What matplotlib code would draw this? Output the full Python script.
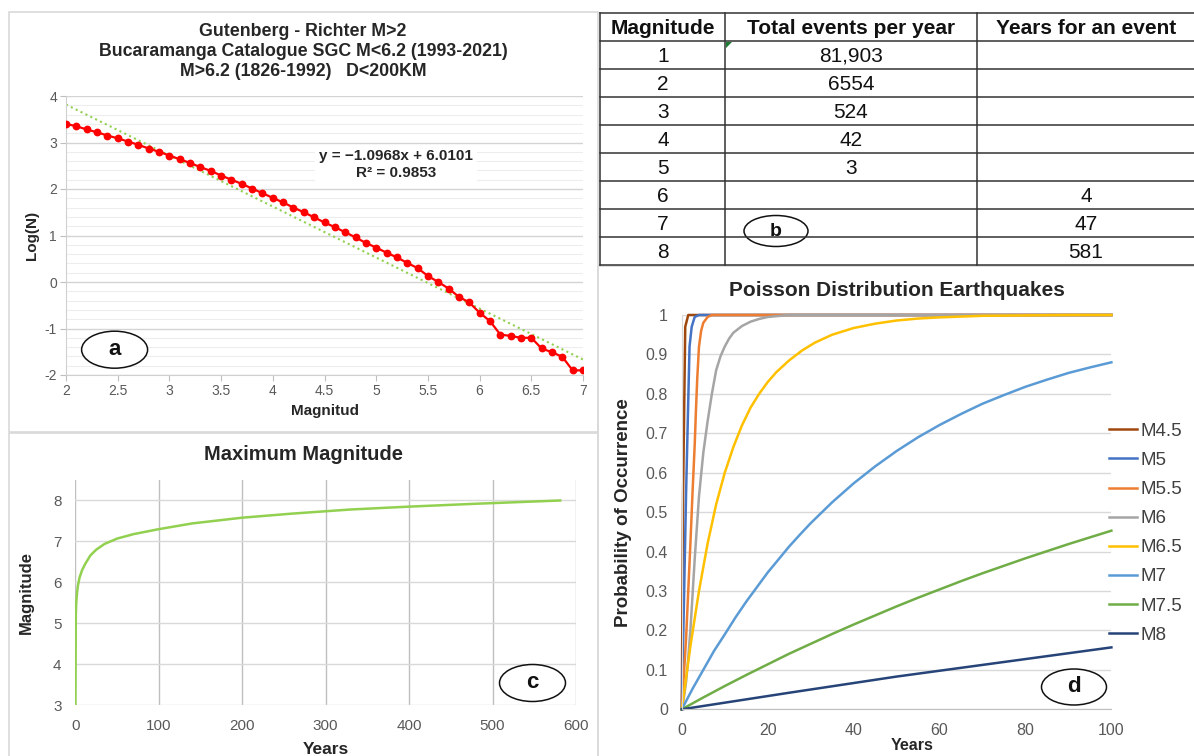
import matplotlib
matplotlib.use("Agg")
import matplotlib.pyplot as plt
from matplotlib.patches import Ellipse, Rectangle, Polygon
from matplotlib.ticker import MultipleLocator

plt.rcParams['font.family'] = ['Liberation Sans', 'DejaVu Sans']
plt.rcParams['axes.unicode_minus'] = False

# ---------------- data ----------------
# (a) Gutenberg-Richter
mag_a = [2.0, 2.1, 2.2, 2.3, 2.4, 2.5, 2.6, 2.7, 2.8, 2.9,
         3.0, 3.1, 3.2, 3.3, 3.4, 3.5, 3.6, 3.7, 3.8, 3.9,
         4.0, 4.1, 4.2, 4.3, 4.4, 4.5, 4.6, 4.7, 4.8, 4.9,
         5.0, 5.1, 5.2, 5.3, 5.4, 5.5, 5.6, 5.7, 5.8, 5.9,
         6.0, 6.1, 6.2, 6.3, 6.4, 6.5, 6.6, 6.7, 6.8, 6.9, 7.0]
log_n = [3.40, 3.35, 3.28, 3.22, 3.15, 3.09, 3.02, 2.95, 2.87, 2.80,
         2.72, 2.64, 2.56, 2.47, 2.39, 2.29, 2.20, 2.11, 2.01, 1.91,
         1.81, 1.71, 1.60, 1.50, 1.39, 1.28, 1.18, 1.07, 0.96, 0.84,
         0.74, 0.63, 0.53, 0.41, 0.30, 0.13, 0.00, -0.14, -0.32, -0.44,
         -0.66, -0.84, -1.13, -1.16, -1.20, -1.20, -1.43, -1.51, -1.61, -1.90, -1.90]
trend_x = [2.0, 7.0]
trend_y = [3.816, -1.667]
eq_text = "y = \u22121.0968x + 6.0101\nR\u00b2 = 0.9853"
a_xticks = [2, 2.5, 3, 3.5, 4, 4.5, 5, 5.5, 6, 6.5, 7]
a_xticklabels = ['2', '2.5', '3', '3.5', '4', '4.5', '5', '5.5', '6', '6.5', '7']
a_yticks = [-2, -1, 0, 1, 2, 3, 4]

# (b) table
tbl_headers = ['Magnitude', 'Total events per year', 'Years for an event']
tbl_mag = ['1', '2', '3', '4', '5', '6', '7', '8']
tbl_events = ['81,903', '6554', '524', '42', '3', '', '', '']
tbl_years = ['', '', '', '', '', '4', '47', '581']

# (c) maximum magnitude vs years
years_c = [0.0, 0.5, 1, 2, 3, 5, 8, 12, 18, 25, 35, 50, 70, 100,
           140, 200, 260, 330, 400, 480, 581]
mmax_c = [3.0, 5.2, 5.5, 5.75, 5.92, 6.12, 6.3, 6.46, 6.66, 6.8, 6.94, 7.07, 7.18, 7.30,
          7.44, 7.58, 7.68, 7.78, 7.85, 7.92, 8.0]
c_xticks = [0, 100, 200, 300, 400, 500, 600]
c_yticks = [3, 4, 5, 6, 7, 8]

# (d) Poisson probability of occurrence
d_labels = ['M4.5', 'M5', 'M5.5', 'M6', 'M6.5', 'M7', 'M7.5', 'M8']
d_colors = ['#9E480E', '#4472C4', '#ED7D31', '#A5A5A5', '#FFC000', '#5B9BD5', '#70AD47', '#264478']
t_m45 = [0, 0.3, 0.8, 1.5, 100]
p_m45 = [0, 0.55, 0.97, 1.0, 1.0]
t_m5 = [0, 1.0, 1.8, 2.3, 3.0, 4.0, 100]
p_m5 = [0, 0.55, 0.92, 0.97, 0.995, 1.0, 1.0]
t_m55 = [0, 1, 1.5, 2, 2.5, 3, 3.3, 3.6, 4, 4.5, 5, 6, 7, 100]
p_m55 = [0, 0.18, 0.3, 0.42, 0.55, 0.67, 0.76, 0.84, 0.92, 0.96, 0.98, 0.995, 1.0, 1.0]
t_m6 = [0, 0.5, 1, 1.5, 2, 2.5, 3, 3.5, 4, 5, 6, 7, 8, 9, 10, 11, 12, 14, 16, 18, 20, 22, 25, 100]
p_m6 = [0, 0.03, 0.07, 0.13, 0.2, 0.29, 0.38, 0.46, 0.54, 0.65, 0.73, 0.8, 0.86, 0.895,
        0.92, 0.94, 0.955, 0.972, 0.983, 0.99, 0.995, 0.997, 1.0, 1.0]
t_m65 = [0, 1, 2, 3, 4, 5, 6, 7, 8, 9, 10, 12, 14, 16, 18, 20, 22, 25, 28, 31, 35, 40,
         45, 50, 55, 60, 70, 80, 90, 100]
p_m65 = [0, 0.08, 0.16, 0.23, 0.30, 0.36, 0.42, 0.47, 0.52, 0.56, 0.60, 0.665, 0.72, 0.765,
         0.80, 0.83, 0.855, 0.885, 0.91, 0.93, 0.95, 0.967, 0.978, 0.986, 0.991, 0.994,
         0.998, 0.999, 1.0, 1.0]
t_m7 = [0, 2.5, 5, 7.5, 10, 12.5, 15, 17.5, 20, 22.5, 25, 27.5, 30, 35, 40, 45, 50, 55,
        60, 65, 70, 75, 80, 85, 90, 95, 100]
p_m7 = [0, 0.052, 0.10, 0.148, 0.19, 0.233, 0.273, 0.31, 0.347, 0.38, 0.413, 0.443, 0.472,
        0.525, 0.573, 0.616, 0.655, 0.69, 0.721, 0.749, 0.775, 0.797, 0.818, 0.836, 0.853,
        0.867, 0.88]
t_m75 = [0, 5, 10, 15, 20, 25, 30, 35, 40, 45, 50, 55, 60, 65, 70, 75, 80, 85, 90, 95, 100]
p_m75 = [0, 0.03, 0.059, 0.087, 0.114, 0.141, 0.166, 0.191, 0.215, 0.238, 0.261, 0.283,
         0.304, 0.325, 0.345, 0.364, 0.383, 0.401, 0.419, 0.436, 0.453]
t_m8 = [0, 25, 50, 75, 100]
p_m8 = [0, 0.042, 0.083, 0.12, 0.157]
d_xticks = [0, 20, 40, 60, 80, 100]
d_yticks = [0, 0.1, 0.2, 0.3, 0.4, 0.5, 0.6, 0.7, 0.8, 0.9, 1]
d_yticklabels = ['0', '0.1', '0.2', '0.3', '0.4', '0.5', '0.6', '0.7', '0.8', '0.9', '1']

# ---------------- figure ----------------
W, H = 1194, 756
fig = plt.figure(figsize=(W / 100, H / 100), dpi=100)
fig.patch.set_facecolor('white')
TICKC = '#595959'


def px_axes(x0, y0, x1, y1, **kw):
    return fig.add_axes([x0 / W, 1 - y1 / H, (x1 - x0) / W, (y1 - y0) / H], **kw)


def ftext(x, y, s, **kw):
    return fig.text(x / W, 1 - y / H, s, **kw)


# ----- panel a -----
axa = px_axes(66, 96, 583, 375)
axa.set_xlim(2, 7)
axa.set_ylim(-2, 4)
axa.set_xticks(a_xticks)
axa.set_xticklabels(a_xticklabels)
axa.set_yticks(a_yticks)
axa.yaxis.set_minor_locator(MultipleLocator(0.2))
axa.grid(which='minor', axis='y', color='#EDEDED', lw=0.8)
axa.grid(which='major', axis='y', color='#D4D4D4', lw=1.0)
axa.set_axisbelow(True)
for s in ['top', 'right']:
    axa.spines[s].set_visible(False)
for s in ['left', 'bottom']:
    axa.spines[s].set_color('#D0D0D0')
axa.tick_params(axis='both', which='major', colors='#BFBFBF', labelcolor=TICKC,
                labelsize=10, length=4, pad=2.5)
axa.tick_params(axis='y', which='minor', length=0)
axa.plot(trend_x, trend_y, color='#92D050', lw=1.5, ls=(0, (1, 1.6)), zorder=2)
axa.plot(mag_a, log_n, color='#FF0000', lw=1.6, marker='o', ms=4.6, zorder=3)
axa.text(5.19, 2.53, eq_text, ha='center', va='center', fontsize=11, fontweight='bold',
         color='#262626', linespacing=1.25,
         bbox=dict(fc='white', ec='none', pad=3), zorder=4)

ftext(303, 32, 'Gutenberg - Richter M>2', ha='center', va='center', fontsize=12.8,
      fontweight='bold', color='#262626')
ftext(303, 52, 'Bucaramanga Catalogue SGC M<6.2 (1993-2021)', ha='center', va='center',
      fontsize=12.8, fontweight='bold', color='#262626')
ftext(303, 71, 'M>6.2 (1826-1992)   D<200KM', ha='center', va='center', fontsize=12.8,
      fontweight='bold', color='#262626')
ftext(32, 235, 'Log(N)', ha='center', va='center', rotation=90, fontsize=11,
      fontweight='bold', color='#262626')
ftext(325, 411, 'Magnitud', ha='center', va='center', fontsize=11, fontweight='bold',
      color='#262626')

# ----- panel c -----
axc = px_axes(75.4, 480, 576, 705.3)
axc.set_xlim(0, 600)
axc.set_ylim(3, 8.5)
axc.set_xticks(c_xticks)
axc.set_yticks(c_yticks)
axc.grid(axis='y', color='#D9D9D9', lw=1.0)
axc.grid(axis='x', color='#BFBFBF', lw=1.0)
axc.set_axisbelow(True)
for s in axc.spines.values():
    s.set_visible(False)
axc.tick_params(axis='both', length=0, labelcolor=TICKC, labelsize=11, pad=10)
axc.plot(years_c, mmax_c, color='#92D050', lw=1.8)
ftext(303, 454, 'Maximum Magnitude', ha='center', va='center', fontsize=14.5,
      fontweight='bold', color='#262626')
ftext(26, 592, 'Magnitude', ha='center', va='center', rotation=90, fontsize=12,
      fontweight='bold', color='#262626')
ftext(326, 749, 'Years', ha='center', va='center', fontsize=12.5, fontweight='bold',
      color='#262626')

# ----- panel d -----
axd = px_axes(681.8, 315, 1111.4, 709.3)
axd.set_xlim(0, 100)
axd.set_ylim(0, 1)
axd.set_xticks(d_xticks)
axd.set_yticks(d_yticks)
axd.set_yticklabels(d_yticklabels)
axd.grid(axis='y', color='#D9D9D9', lw=1.0)
axd.set_axisbelow(True)
for s in ['top', 'right']:
    axd.spines[s].set_visible(False)
axd.spines['left'].set_color('#D9D9D9')
axd.spines['bottom'].set_color('#BFBFBF')
axd.tick_params(axis='both', length=0, labelcolor=TICKC, labelsize=11.5, pad=10)
d_series = [(t_m45, p_m45), (t_m5, p_m5), (t_m55, p_m55), (t_m6, p_m6),
            (t_m65, p_m65), (t_m7, p_m7), (t_m75, p_m75), (t_m8, p_m8)]
for (tt, pp), lab, col in zip(d_series, d_labels, d_colors):
    axd.plot(tt, pp, color=col, lw=1.8, label=lab, clip_on=False,
             solid_joinstyle='round')
axd.legend(loc='center left', bbox_to_anchor=(0.995, 0.4466), frameon=False,
           fontsize=13.5, handlelength=1.5, handletextpad=0.15, labelspacing=0.64,
           borderpad=0, borderaxespad=0, labelcolor='#404040')
ftext(897, 291, 'Poisson Distribution Earthquakes', ha='center', va='center',
      fontsize=15, fontweight='bold', color='#262626')
ftext(623, 513, 'Probability of Occurrence', ha='center', va='center', rotation=90,
      fontsize=13.5, fontweight='bold', color='#262626')
ftext(912, 746, 'Years', ha='center', va='center', fontsize=11.5, fontweight='bold',
      color='#262626')

# ----- overlay: panel frames, table, ovals -----
ov = fig.add_axes([0, 0, 1, 1], zorder=10)
ov.set_xlim(0, W)
ov.set_ylim(H, 0)
ov.axis('off')
ov.patch.set_alpha(0)

ov.add_patch(Rectangle((9, 12), 589, 420, fill=False, ec='#D9D9D9', lw=1.2))
ov.add_patch(Rectangle((9, 433), 589, 330, fill=False, ec='#D9D9D9', lw=1.2))
ov.add_patch(Rectangle((598, 266), 600, 500, fill=False, ec='#D9D9D9', lw=1.2))

# table grid
row_edges = [13, 41, 69, 97, 125, 153, 181, 209, 237, 265]
col_edges = [600, 725, 977, 1194]
col_centers = [663, 851, 1086]
for yy in row_edges:
    ov.plot([col_edges[0], col_edges[-1]], [yy, yy], color='#333333', lw=1.1)
for xx in col_edges[:-1]:
    ov.plot([xx, xx], [row_edges[0], row_edges[-1]], color='#333333', lw=1.1)
ov.add_patch(Polygon([(726, 42), (732, 42), (726, 48)], closed=True, fc='#1E7B34', ec='none'))
hy = (row_edges[0] + row_edges[1]) / 2
for cx, h in zip(col_centers, tbl_headers):
    ov.text(cx, hy + 1, h, ha='center', va='center', fontsize=15, fontweight='bold',
            color='#111111')
for i, (m, e, y) in enumerate(zip(tbl_mag, tbl_events, tbl_years)):
    ry = (row_edges[i + 1] + row_edges[i + 2]) / 2 + 1
    for cx, s in zip(col_centers, [m, e, y]):
        if s:
            ov.text(cx, ry, s, ha='center', va='center', fontsize=15, color='#111111')

# panel letter ovals
for (cx, cy, w, h, letter, fs) in [(114.6, 349.7, 66, 37, 'a', 16),
                                   (776, 231, 64, 31, 'b', 14),
                                   (532.5, 683, 66, 37, 'c', 16),
                                   (1074, 687, 65, 36, 'd', 16)]:
    ov.add_patch(Ellipse((cx, cy), w, h, fc='white', ec='#111111', lw=1.1))
    ov.text(cx, cy, letter, ha='center', va='center', fontsize=fs, fontweight='bold',
            color='#111111')

fig.savefig('out.png', dpi=100)
